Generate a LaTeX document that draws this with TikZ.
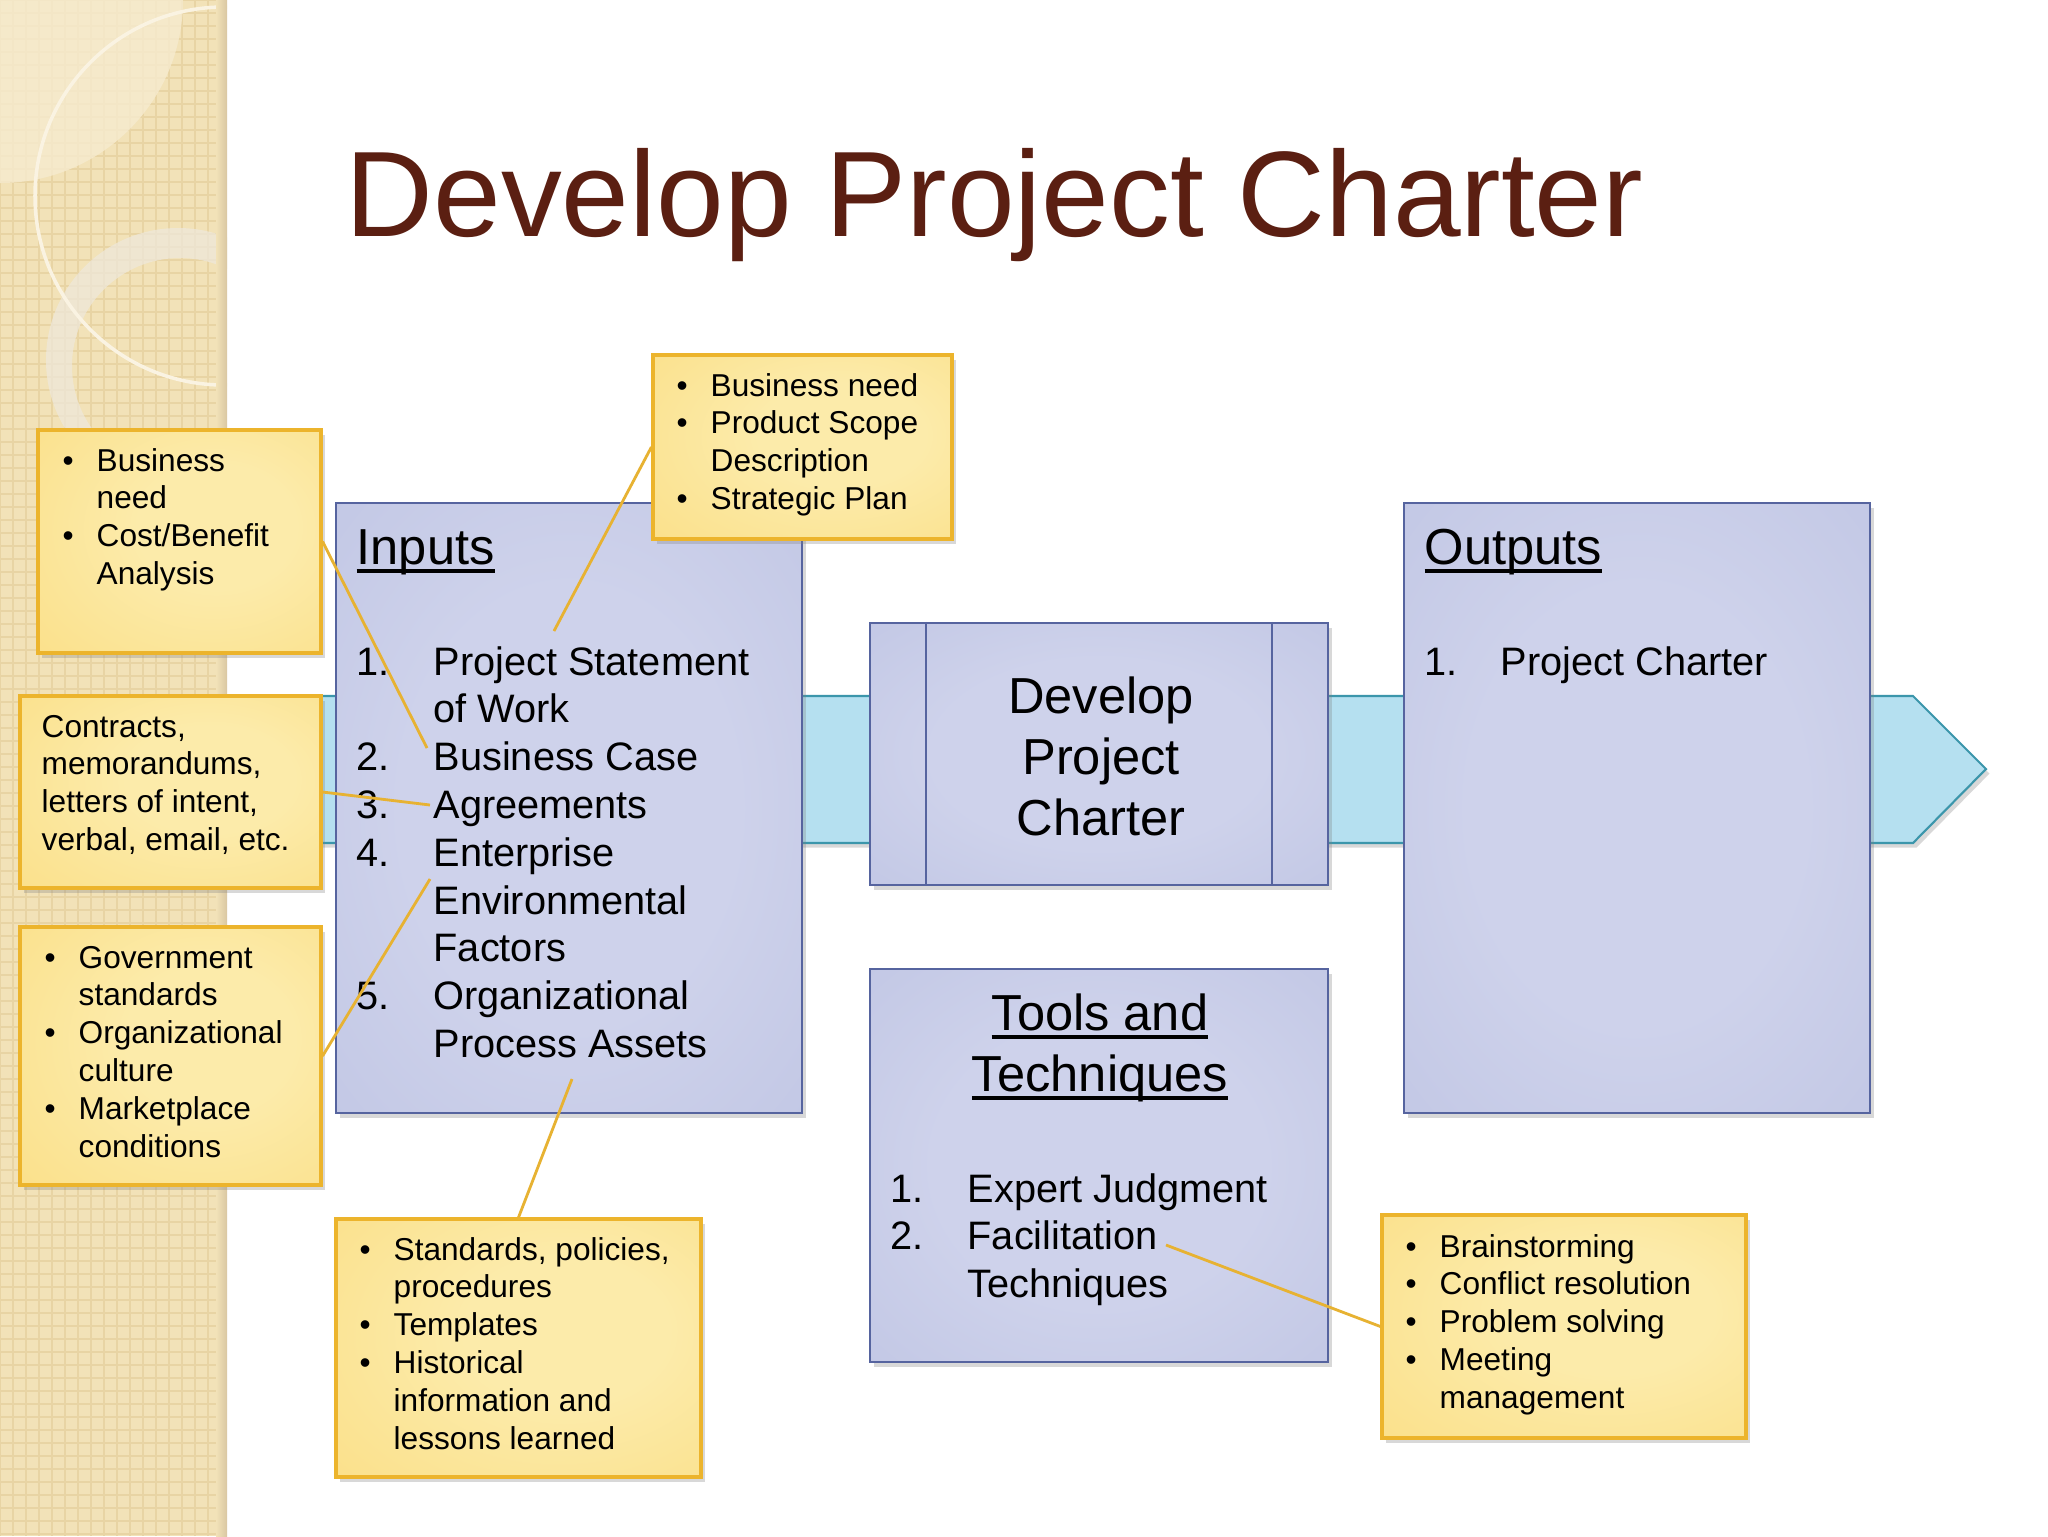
\documentclass[tikz,border=0pt]{standalone}
\usepackage{fontspec}
\setmainfont{Liberation Sans}
\usetikzlibrary{fit,calc,shadows}

\definecolor{titlebrown}{HTML}{5B1F12}
\definecolor{boxedge}{HTML}{56649F}
\definecolor{boxin}{HTML}{CED2EB}
\definecolor{boxout}{HTML}{B1B8DC}
\definecolor{noteedge}{HTML}{ECB42C}
\definecolor{notein}{HTML}{FCEBAA}
\definecolor{noteout}{HTML}{F9D66C}
\definecolor{bandfill}{HTML}{B5E0F0}
\definecolor{bandedge}{HTML}{3B96AB}
\definecolor{pinline}{HTML}{E7B232}
\definecolor{stripbg}{HTML}{F2E2B8}
\definecolor{stripgrid}{HTML}{E8D4A4}
\definecolor{stripedge}{HTML}{D9C7A2}
\definecolor{lensfill}{HTML}{F6EBCF}
\definecolor{ringfill}{HTML}{EEE8DA}
\definecolor{arcline}{HTML}{FAF3E2}

\pgfdeclareradialshading{blueglow}{\pgfpoint{0bp}{0bp}}{color(0bp)=(boxin); color(18bp)=(boxin); color(64bp)=(boxout); color(75bp)=(boxout)}
\pgfdeclareradialshading{noteglow}{\pgfpoint{8bp}{4bp}}{color(0bp)=(notein); color(14bp)=(notein); color(66bp)=(noteout); color(80bp)=(noteout)}

\newcommand\titlefont{\fontsize{34.6}{42}\selectfont}
\newcommand\headfont{\fontsize{14.4}{17.4}\selectfont}
\newcommand\bodyfont{\fontsize{11.3}{13.6}\selectfont}
\newcommand\notefont{\fontsize{9}{10.8}\selectfont}
\newlength\ulwd
\newcommand\ulword[1]{\settowidth\ulwd{#1}\rlap{\rule[-0.17em]{\ulwd}{0.065em}}#1}

\begin{document}
\begin{tikzpicture}[x=0.1mm, y=-0.1mm,
    txt/.style={anchor=base west, inner sep=0pt},
    bluebox/.style={draw=boxedge, line width=0.6pt, inner sep=0pt, shade, shading=blueglow,
        drop shadow={opacity=0.3, shadow xshift=1pt, shadow yshift=-1.3pt}},
    notebox/.style={draw=noteedge, line width=0.9pt, inner sep=0pt, shade, shading=noteglow,
        drop shadow={opacity=0.3, shadow xshift=1pt, shadow yshift=-1.3pt}},
    noteline/.style={draw=pinline, line width=0.8pt}]
        \useasboundingbox (0,0) rectangle (2048,1536);
        \fill[white] (0,0) rectangle (2048,1536);
        % 左边的花纹
        \fill[stripbg] (0,0) rectangle (227,1536);
        \begin{scope}
            \clip (0,0) rectangle (227,1536);
            \draw[stripgrid, line width=0.5pt, step=1.3mm] (0,1536) grid (227,0);
            \fill[lensfill, opacity=0.8] (0,0) circle[radius=183];
            \fill[ringfill, opacity=0.75, even odd rule] (178,360) circle[radius=132] (180,366) circle[radius=108];
            \draw[arcline, line width=1pt] (224,196) circle[radius=189];
            \shade[left color=stripbg, right color=stripedge] (216,0) rectangle (227,1536);
        \end{scope}

        \node[txt, text=titlebrown, font=\titlefont] (title) at (345,236) {Develop Project Charter};

        % 箭头
        \draw[draw=bandedge, fill=bandfill, line width=0.6pt, drop shadow={opacity=0.3, shadow xshift=1pt, shadow yshift=-1.3pt}]
            (300,696) -- (1913,696) -- (1986,769) -- (1913,843) -- (300,843) -- cycle;

        \node[bluebox, fit={(336,503) (802,1113)}] (inputs) {};
        \node[bluebox, fit={(870,623) (1328,885)}] (develop) {};
        \draw[boxedge, line width=0.6pt] ($(develop.north west)+(57,0)$) -- ($(develop.south west)+(57,0)$);
        \draw[boxedge, line width=0.6pt] ($(develop.north east)-(57,0)$) -- ($(develop.south east)-(57,0)$);
        \node[bluebox, fit={(870,969) (1328,1362)}] (tools) {};
        \node[bluebox, fit={(1404,503) (1870,1113)}] (outputs) {};

        \node[notebox, fit={(653,355) (952,539)}] (topnote) {};
        \node[notebox, fit={(38,430) (321,653)}] (casenote) {};
        \node[notebox, fit={(20,696) (321,888)}] (agreenote) {};
        \node[notebox, fit={(20,927) (321,1185)}] (eefnote) {};
        \node[notebox, fit={(336,1219) (701,1477)}] (opanote) {};
        \node[notebox, fit={(1382,1215) (1746,1438)}] (facilnote) {};

        % 方框里的文字
        \node[txt, font=\headfont] (inhead) at (356,564) {\ulword{Inputs}};
        \node[txt, font=\bodyfont] (inlist) at (356,675) {\begin{tabular}[t]{@{}p{7.7mm}@{}l@{}}
            1. & Project Statement\\ & of Work\\ 2. & Business Case\\ 3. & Agreements\\
            4. & Enterprise\\ & Environmental\\ & Factors\\ 5. & Organizational\\ & Process Assets
        \end{tabular}};
        \node[anchor=base, inner sep=0pt, font=\headfont] (devtext) at (1101,713) {\begin{tabular}[t]{@{}c@{}}
            Develop\\ Project\\ Charter
        \end{tabular}};
        \node[anchor=base, inner sep=0pt, font=\headfont] (toolhead) at (1100,1030) {\begin{tabular}[t]{@{}c@{}}
            \ulword{Tools and}\\ \ulword{Techniques}
        \end{tabular}};
        \node[txt, font=\bodyfont] (toollist) at (890,1202) {\begin{tabular}[t]{@{}p{7.7mm}@{}l@{}}
            1. & Expert Judgment\\ 2. & Facilitation\\ & Techniques
        \end{tabular}};
        \node[txt, font=\headfont] (outhead) at (1424,564) {\ulword{Outputs}};
        \node[txt, font=\bodyfont] (outlist) at (1424,675) {\begin{tabular}[t]{@{}p{7.6mm}@{}l@{}}
            1. & Project Charter
        \end{tabular}};

        \node[txt, font=\notefont] at (676,396) {\begin{tabular}[t]{@{}p{3.4mm}@{}l@{}}
            • & Business need\\ • & Product Scope\\ & Description\\ • & Strategic Plan
        \end{tabular}};
        \node[txt, font=\notefont] at (62,471) {\begin{tabular}[t]{@{}p{3.4mm}@{}l@{}}
            • & Business\\ & need\\ • & Cost/Benefit\\ & Analysis
        \end{tabular}};
        \node[txt, font=\notefont] at (41,737) {\begin{tabular}[t]{@{}l@{}}
            Contracts,\\ memorandums,\\ letters of intent,\\ verbal, email, etc.
        \end{tabular}};
        \node[txt, font=\notefont] at (44,968) {\begin{tabular}[t]{@{}p{3.4mm}@{}l@{}}
            • & Government\\ & standards\\ • & Organizational\\ & culture\\ • & Marketplace\\ & conditions
        \end{tabular}};
        \node[txt, font=\notefont] at (359,1260) {\begin{tabular}[t]{@{}p{3.4mm}@{}l@{}}
            • & Standards, policies,\\ & procedures\\ • & Templates\\ • & Historical\\ & information and\\ & lessons learned
        \end{tabular}};
        \node[txt, font=\notefont] at (1405,1257) {\begin{tabular}[t]{@{}p{3.4mm}@{}l@{}}
            • & Brainstorming\\ • & Conflict resolution\\ • & Problem solving\\ • & Meeting\\ & management
        \end{tabular}};

        % 引线
        \coordinate (p0) at (554,631);
        \coordinate (p1) at (427,748);
        \coordinate (p2) at (430,805);
        \coordinate (p3) at (430,879);
        \coordinate (p4) at (572,1079);
        \coordinate (p5) at (1166,1245);
        \draw[noteline] (topnote.west) -- (p0);
        \draw[noteline] (casenote.east) -- (p1);
        \draw[noteline] (agreenote.east) -- (p2);
        \draw[noteline] (eefnote.east) -- (p3);
        \draw[noteline] (opanote.north) -- (p4);
        \draw[noteline] (facilnote.west) -- (p5);
    \end{tikzpicture}
\end{document}
